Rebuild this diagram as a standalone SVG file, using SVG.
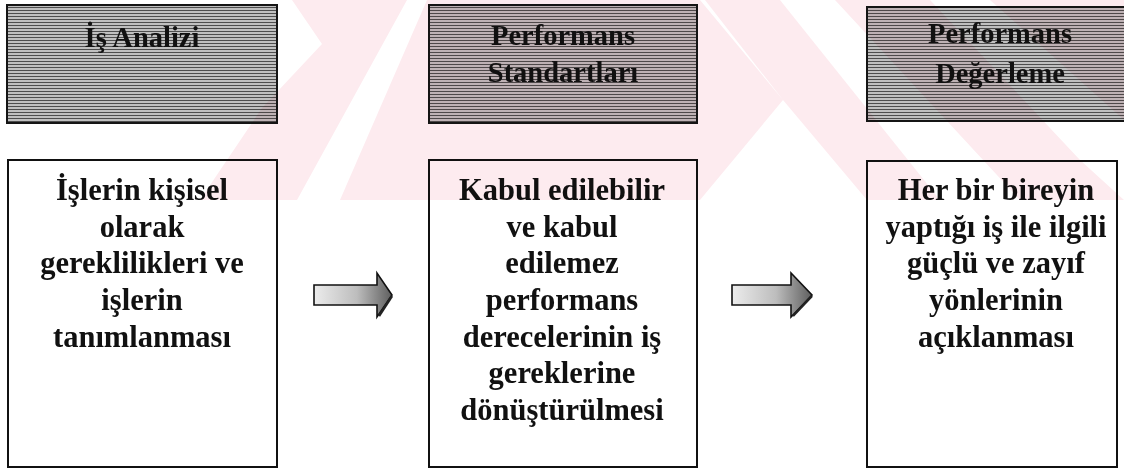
<svg xmlns="http://www.w3.org/2000/svg" width="1124" height="469" viewBox="0 0 1124 469">
  <defs>
    <pattern id="scan" width="4" height="3" patternUnits="userSpaceOnUse">
      <rect width="4" height="3" fill="#c0c0c0"/>
      <rect y="1" width="4" height="1" fill="#4e4e4e"/>
    </pattern>
    <linearGradient id="arrowFill" x1="0" y1="0" x2="1" y2="0">
      <stop offset="0" stop-color="#ececec"/>
      <stop offset="0.55" stop-color="#bdbdbd"/>
      <stop offset="1" stop-color="#5e5e5e"/>
    </linearGradient>
    <style>
      .hdr { fill: url(#scan); stroke: #151515; stroke-width: 2; }
      .box { fill: #ffffff; stroke: #111111; stroke-width: 2; }
      .ht { font-family: "Liberation Serif", "Times New Roman", serif; font-weight: bold; font-size: 28.5px; fill: #111; text-anchor: middle; }
      .bt { font-family: "Liberation Serif", "Times New Roman", serif; font-weight: bold; font-size: 30.5px; fill: #111; text-anchor: middle; }
      .arrow { fill: url(#arrowFill); stroke: #111; stroke-width: 1.6; stroke-linejoin: miter; }
      .wm { fill: #fdebef; mix-blend-mode: multiply; }
    </style>
  </defs>
  <rect width="1124" height="469" fill="#ffffff"/>

  <g id="node-is-analizi">
    <rect class="hdr" x="7" y="5" width="270" height="118"/>
    <text class="ht" x="142" y="47">İş Analizi</text>
  </g>
  <g id="node-performans-standartlari">
    <rect class="hdr" x="429" y="5" width="268" height="118"/>
    <text class="ht" x="563" y="45">Performans</text>
    <text class="ht" x="563" y="82">Standartları</text>
  </g>
  <g id="node-performans-degerleme">
    <rect class="hdr" x="867" y="7" width="262" height="114"/>
    <text class="ht" x="1000" y="43">Performans</text>
    <text class="ht" x="1000" y="83">Değerleme</text>
  </g>

  <g id="node-desc-1">
    <rect class="box" x="8" y="160" width="269" height="307"/>
    <text class="bt" x="142" y="200">İşlerin kişisel</text>
    <text class="bt" x="142" y="236.7">olarak</text>
    <text class="bt" x="142" y="273.3">gereklilikleri ve</text>
    <text class="bt" x="142" y="310">işlerin</text>
    <text class="bt" x="142" y="346.7">tanımlanması</text>
  </g>
  <g id="node-desc-2">
    <rect class="box" x="429" y="160" width="268" height="307"/>
    <text class="bt" x="562" y="200">Kabul edilebilir</text>
    <text class="bt" x="562" y="236.7">ve kabul</text>
    <text class="bt" x="562" y="273.3">edilemez</text>
    <text class="bt" x="562" y="310">performans</text>
    <text class="bt" x="562" y="346.7">derecelerinin iş</text>
    <text class="bt" x="562" y="383.3">gereklerine</text>
    <text class="bt" x="562" y="420">dönüştürülmesi</text>
  </g>
  <g id="node-desc-3">
    <rect class="box" x="867" y="161" width="250" height="306"/>
    <text class="bt" x="996" y="200">Her bir bireyin</text>
    <text class="bt" x="996" y="236.7">yaptığı iş ile ilgili</text>
    <text class="bt" x="996" y="273.3">güçlü ve zayıf</text>
    <text class="bt" x="996" y="310">yönlerinin</text>
    <text class="bt" x="996" y="346.7">açıklanması</text>
  </g>

  <g id="connectors">
    <polygon class="arrow" points="314,285 377,285 377,273 392,295 377,317 377,305 314,305"/>
    <polyline points="379,316 392,296" fill="none" stroke="#222" stroke-width="2.5"/>
    <polygon class="arrow" points="732,285 791,285 791,273 812,295 791,317 791,305 732,305"/>
    <polyline points="793,316 812,296" fill="none" stroke="#222" stroke-width="2.5"/>
  </g>

  <g id="watermark">
    <polygon class="wm" points="200,200 297,200 407,0 292,0 322,44 262,108"/>
    <polygon class="wm" points="340,200 700,200 783,100 700,0 427,0"/>
    <polygon class="wm" points="705,0 780,0 860,100 940,200 867,200 783,100"/>
    <polygon class="wm" points="835,0 930,0 1080,160 1124,200 1020,200"/>
    <polygon class="wm" points="990,0 1124,0 1124,120"/>
  </g>
</svg>
